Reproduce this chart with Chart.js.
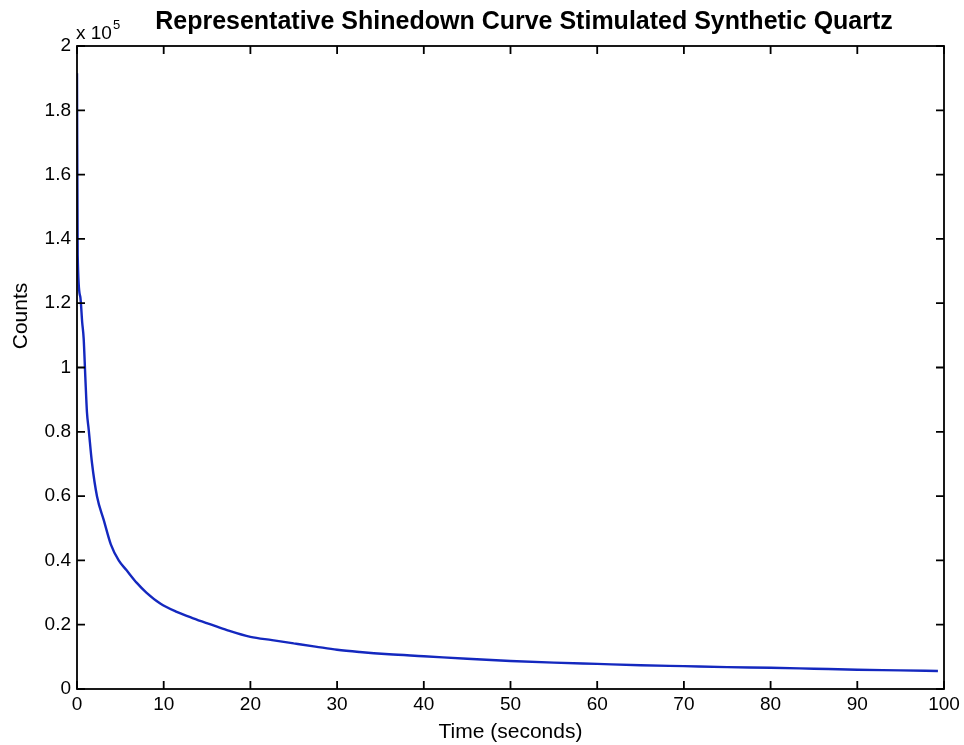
<!DOCTYPE html>
<html>
<head>
<meta charset="utf-8">
<script src="https://cdn.jsdelivr.net/npm/chart.js@4.4.1/dist/chart.umd.min.js"></script>
<style>
  body { margin: 0; background: #fff; }
  canvas { display: block; }
</style>
</head>
<body>
<canvas id="shinedown" width="964" height="745"></canvas>
<script>
// datos (tiempo en s, cuentas)
const tiempos = [0, 0.08, 0.38, 0.6, 0.77, 0.96, 1.15, 1.35, 1.73, 2.31, 3.08, 3.9, 4.81, 5.7, 6.9, 8.0, 9.6, 11.5, 13.4, 15.5, 17.3, 20, 22.5, 25, 27.5, 30, 32.6, 36, 40, 45, 50, 55, 60, 65, 70, 75, 80, 85, 90, 95, 99.3];
const cuentas = [191500, 135000, 122000, 114000, 109000, 97000, 86000, 80700, 70300, 59900, 52600, 45000, 40000, 37000, 33000, 30000, 26600, 24000, 22000, 20000, 18300, 16200, 15200, 14200, 13200, 12200, 11500, 10800, 10200, 9400, 8700, 8200, 7800, 7400, 7100, 6800, 6600, 6300, 6000, 5800, 5600];
const xTicks = [0, 10, 20, 30, 40, 50, 60, 70, 80, 90, 100];
const yTicks = ['0', '0.2', '0.4', '0.6', '0.8', '1', '1.2', '1.4', '1.6', '1.8', '2'];

const titulo = 'Representative Shinedown Curve Stimulated Synthetic Quartz';
const fuente = '"Liberation Sans", Arial, sans-serif';

const puntos = tiempos.map((t, i) => ({ x: t, y: cuentas[i] }));

// caja estilo matlab con marcas hacia adentro, titulo y exponente
const cajaMatlab = {
    id: 'cajaMatlab',
    afterDraw(chart) {
        const ctx = chart.ctx;
        const a = chart.chartArea;
        const sx = chart.scales.x;
        const sy = chart.scales.y;
        const largo = 8;
        ctx.save();
        ctx.strokeStyle = '#000';
        ctx.lineWidth = 1.8;
        ctx.strokeRect(a.left, a.top, a.right - a.left, a.bottom - a.top);
        ctx.beginPath();
        sx.ticks.forEach(t => {
            const px = sx.getPixelForValue(t.value);
            ctx.moveTo(px, a.bottom); ctx.lineTo(px, a.bottom - largo);
            ctx.moveTo(px, a.top); ctx.lineTo(px, a.top + largo);
        });
        sy.ticks.forEach(t => {
            const py = sy.getPixelForValue(t.value);
            ctx.moveTo(a.left, py); ctx.lineTo(a.left + largo, py);
            ctx.moveTo(a.right, py); ctx.lineTo(a.right - largo, py);
        });
        ctx.stroke();

        ctx.fillStyle = '#000';
        ctx.textBaseline = 'alphabetic';
        // titulo
        ctx.font = 'bold 25px ' + fuente;
        ctx.textAlign = 'center';
        ctx.fillText(titulo, 524, 29);
        // exponente x 10^5
        ctx.textAlign = 'left';
        ctx.font = '19px ' + fuente;
        ctx.fillText('x 10', 76, 39);
        ctx.font = '13px ' + fuente;
        ctx.fillText('5', 113, 29);
        // etiqueta eje y
        ctx.font = '21px ' + fuente;
        ctx.translate(27, 316);
        ctx.rotate(-Math.PI / 2);
        ctx.textAlign = 'center';
        ctx.fillText('Counts', 0, 0);
        ctx.restore();
    }
};

new Chart(document.getElementById('shinedown'), {
    type: 'line',
    data: {
        datasets: [{
            data: puntos,
            borderColor: '#1428bf',
            borderWidth: 2.4,
            pointRadius: 0,
            cubicInterpolationMode: 'monotone',
            fill: false
        }]
    },
    options: {
        responsive: false,
        devicePixelRatio: 1,
        animation: false,
        layout: { padding: { top: 46, right: 20, left: 0, bottom: 0 } },
        plugins: {
            legend: { display: false },
            tooltip: { enabled: false }
        },
        scales: {
            x: {
                type: 'linear',
                min: 0,
                max: 100,
                afterBuildTicks: s => { s.ticks = xTicks.map(v => ({ value: v })); },
                grid: { display: false, drawTicks: false },
                border: { display: false },
                ticks: {
                    color: '#000',
                    padding: 4,
                    maxRotation: 0,
                    font: { family: fuente, size: 19 },
                    callback: v => String(v)
                },
                title: {
                    display: true,
                    text: 'Time (seconds)',
                    color: '#000',
                    font: { family: fuente, size: 21 },
                    padding: { top: 1, bottom: 0 }
                },
                afterFit: s => { s.height = 56; }
            },
            y: {
                min: 0,
                max: 200000,
                afterBuildTicks: s => { s.ticks = yTicks.map(v => ({ value: parseFloat(v) * 100000 })); },
                grid: { display: false, drawTicks: false },
                border: { display: false },
                ticks: {
                    color: '#000',
                    padding: 6,
                    font: { family: fuente, size: 19 },
                    callback: (v, i) => yTicks[i]
                },
                afterFit: s => { s.width = 77; }
            }
        }
    },
    plugins: [cajaMatlab]
});
</script>
</body>
</html>
